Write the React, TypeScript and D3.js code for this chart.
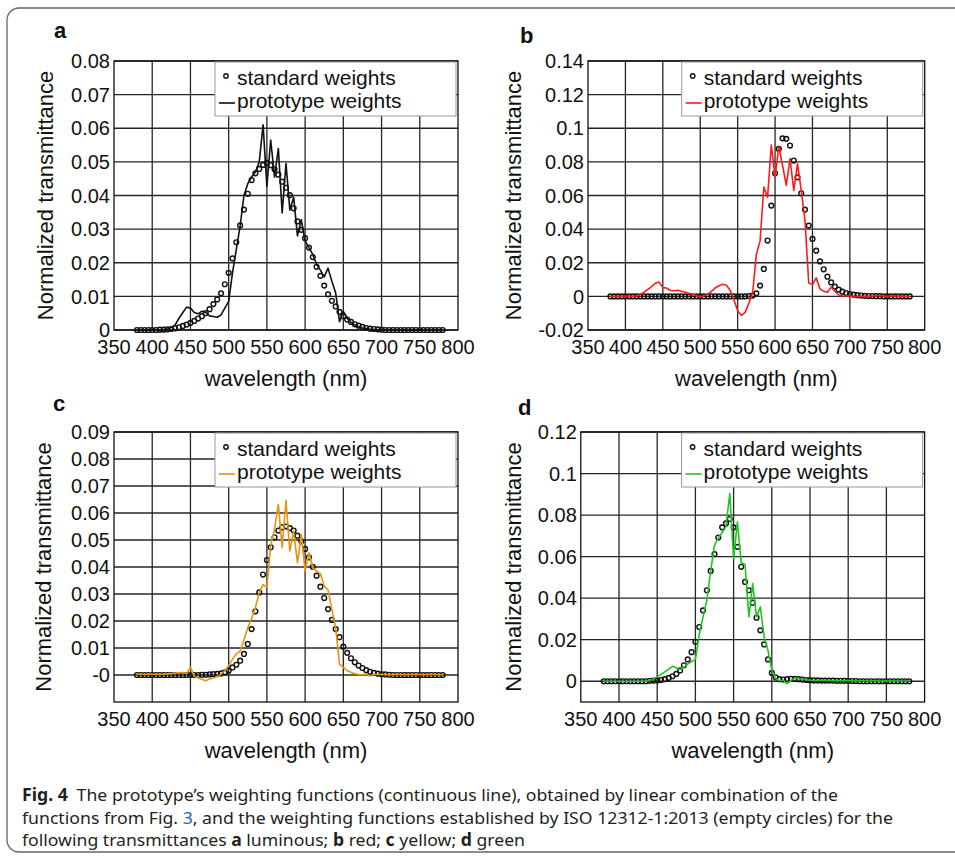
import React from 'react';
import * as d3 from 'd3';

// wavelength grid of the weighting functions (nm)
const wavelengths = d3.range(380, 781, 5);
const xTicks = [350, 400, 450, 500, 550, 600, 650, 700, 750, 800];

// a: luminous
const lumStd = [0, 0, 0, 0, 0, 0, 0.0001, 0.0001, 0.0002, 0.0003, 0.0005, 0.0008, 0.0012, 0.0016, 0.0021, 0.0027, 0.0034,
  0.0041, 0.005, 0.0062, 0.0077, 0.0091, 0.0109, 0.0136, 0.017, 0.0213, 0.0261, 0.0311, 0.0358, 0.0405, 0.0446, 0.0466,
  0.0479, 0.0491, 0.0497, 0.049, 0.0478, 0.0462, 0.0441, 0.0423, 0.0401, 0.0362, 0.0323, 0.0298, 0.0273, 0.0245, 0.0217,
  0.0188, 0.0161, 0.0132, 0.0106, 0.0087, 0.007, 0.0054, 0.0041, 0.0031, 0.0024, 0.0017, 0.0013, 0.0009, 0.0006, 0.0004,
  0.0003, 0.0002, 0.0001, 0, 0, 0, 0, 0, 0, 0, 0, 0, 0, 0, 0, 0, 0, 0, 0];
const lumProto = [0, 0, 0, 0, 0, 0, 0, 0.0001, 0.0003, 0.0008, 0.0015, 0.0035, 0.0052, 0.0068, 0.0065, 0.0052, 0.0048,
  0.0056, 0.0052, 0.0042, 0.004, 0.0038, 0.0045, 0.0065, 0.0085, 0.017, 0.024, 0.031, 0.04, 0.0435, 0.0455, 0.047, 0.05,
  0.061, 0.0428, 0.0565, 0.0455, 0.054, 0.0348, 0.0495, 0.0357, 0.0395, 0.028, 0.0328, 0.0265, 0.0245, 0.0225, 0.0195,
  0.0178, 0.0158, 0.0184, 0.0145, 0.011, 0.0025, 0.0055, 0.0035, 0.0022, 0.0015, 0.001, 0.0006, 0.0004, 0.0002, 0.0001,
  0, 0, 0, 0, 0, 0, 0, 0, 0, 0, 0, 0, 0, 0, 0, 0, 0, 0];

// b: red
const redStd = [0, 0, 0, 0, 0, 0, 0, 0, 0, 0, 0, 0, 0, 0, 0, 0, 0, 0, 0, 0, 0, 0, 0, 0, 0, 0, 0, 0, 0, 0, 0, 0, 0, 0, 0, 0, 0,
  0.0002, 0.0005, 0.0018, 0.0064, 0.0163, 0.0332, 0.054, 0.0732, 0.0877, 0.094, 0.0937, 0.0897, 0.0808, 0.0708, 0.0613,
  0.0516, 0.0421, 0.0342, 0.0272, 0.0208, 0.0161, 0.0117, 0.0083, 0.0058, 0.004, 0.0028, 0.002, 0.0014, 0.001, 0.0007,
  0.0005, 0.0003, 0.0002, 0.0002, 0.0001, 0.0001, 0, 0, 0, 0, 0, 0, 0, 0];
const redProto = [0, 0, 0, 0, 0, 0, 0, 0.0002, 0.001, 0.0025, 0.0042, 0.0058, 0.0078, 0.0085, 0.0052, 0.005, 0.0035,
  0.0033, 0.0036, 0.003, 0.0025, 0.0018, 0.0012, 0.0004, -0.0003, 0.0003, 0.0012, 0.003, 0.005, 0.0063, 0.0072, 0.0066,
  0.0035, -0.002, -0.0085, -0.0113, -0.0095, -0.004, 0.002, 0.025, 0.033, 0.065, 0.059, 0.09, 0.071, 0.089, 0.078, 0.066,
  0.082, 0.063, 0.079, 0.063, 0.045, 0.008, 0.007, 0.011, 0.0045, 0.003, 0.0025, 0.0055, 0.003, 0.0008, 0.0003, 0.0002,
  0.0002, 0.0001, 0, 0.0001, 0, 0, 0.0002, 0.0004, 0.0005, 0.0002, 0, 0.0002, 0.0003, 0.0001, 0, 0, 0];

// c: yellow
const yelStd = [0, 0, 0, 0, 0, 0, 0, 0, 0, 0, 0, 0, 0, 0, 0, 0, 0, 0.0001, 0.0001, 0.0002, 0.0003, 0.0004, 0.0006, 0.001,
  0.0016, 0.0028, 0.0038, 0.0053, 0.0078, 0.0115, 0.017, 0.0236, 0.0306, 0.0372, 0.0426, 0.0473, 0.051, 0.0535, 0.0547,
  0.055, 0.0544, 0.0535, 0.0516, 0.0495, 0.0467, 0.0436, 0.0401, 0.0368, 0.0327, 0.0285, 0.0244, 0.0204, 0.017, 0.014,
  0.0105, 0.0082, 0.0062, 0.0047, 0.0035, 0.0026, 0.0018, 0.0012, 0.0008, 0.0005, 0.0003, 0.0002, 0.0001, 0, 0, 0, 0, 0,
  0, 0, 0, 0, 0, 0, 0, 0, 0];
const yelProto = [0.0003, 0.0003, 0.0003, 0.0003, 0.0003, 0.0003, 0.0003, 0.0003, 0.0004, 0.0005, 0.0007, 0.0008, 0.0009,
  0.0006, 0.0028, -0.0005, -0.001, -0.0016, -0.0021, -0.0015, -0.0011, -0.0006, 0.0003, 0.0015, 0.0035, 0.0058, 0.0078,
  0.0088, 0.013, 0.0175, 0.021, 0.025, 0.0305, 0.0335, 0.0325, 0.048, 0.054, 0.0632, 0.0472, 0.0647, 0.0459, 0.0533,
  0.0416, 0.052, 0.0385, 0.0453, 0.0397, 0.0385, 0.0375, 0.033, 0.0315, 0.0243, 0.0175, 0.004, 0.0028, 0.0016, 0.001,
  0.0005, 0.0002, 0.0001, 0.0003, -0.0004, 0.0002, 0.0003, 0.0002, 0.0002, 0.0001, 0.0002, 0.0003, 0.0002, 0.0001, 0.0001,
  0.0002, 0.0003, 0.0002, 0.0001, 0.0002, 0.0003, 0.0002, 0.0001, 0.0002];

// d: green
const grnStd = [0, 0, 0, 0, 0, 0, 0, 0, 0, 0, 0, 0, 0.0002, 0.0003, 0.0004, 0.0006, 0.001, 0.0016, 0.0024, 0.0035, 0.0052,
  0.0077, 0.0105, 0.014, 0.019, 0.0261, 0.0341, 0.0438, 0.0531, 0.0612, 0.0692, 0.0741, 0.076, 0.0781, 0.0741, 0.0647,
  0.0551, 0.0478, 0.0438, 0.0378, 0.0306, 0.0245, 0.0177, 0.0105, 0.004, 0.0019, 0.001, 0.0008, 0.001, 0.0012, 0.0012,
  0.001, 0.0008, 0.0006, 0.0005, 0.0004, 0.0004, 0.0003, 0.0003, 0.0003, 0.0003, 0.0002, 0.0002, 0.0002, 0.0002, 0.0001,
  0.0001, 0, 0, 0, 0, 0, 0, 0, 0, 0, 0, 0, 0, 0, 0];
const grnProto = [0, 0, 0, 0, 0, 0, 0, 0, 0, 0, 0, 0, 0.0004, 0.001, 0.0022, 0.0033, 0.0045, 0.0058, 0.0072, 0.0065, 0.0056,
  0.0068, 0.0082, 0.0095, 0.0104, 0.0225, 0.031, 0.039, 0.053, 0.0655, 0.069, 0.0715, 0.0745, 0.0904, 0.059, 0.0767, 0.057,
  0.0562, 0.031, 0.047, 0.031, 0.0358, 0.0213, 0.0149, 0.0053, 0.0013, 0.0002, 0.0005, -0.0012, 0.0003, 0.0015, 0.0012,
  0.001, 0.0007, 0.0005, 0.0003, 0.0004, 0.0006, 0.0005, 0.0004, 0.0003, 0.0003, 0.0002, 0.0002, 0.0002, 0.0002, 0.0001,
  0.0002, 0.0002, 0.0001, 0.0002, 0.0002, 0.0001, 0.0001, 0.0002, 0.0001, 0.0002, 0.0001, 0.0001, 0.0001, 0.0001];

const ticksA = [0, 0.01, 0.02, 0.03, 0.04, 0.05, 0.06, 0.07, 0.08];
const labelsA = ['0', '0.01', '0.02', '0.03', '0.04', '0.05', '0.06', '0.07', '0.08'];
const ticksB = [-0.02, 0, 0.02, 0.04, 0.06, 0.08, 0.1, 0.12, 0.14];
const labelsB = ['-0.02', '0', '0.02', '0.04', '0.06', '0.08', '0.1', '0.12', '0.14'];
const ticksC = [0, 0.01, 0.02, 0.03, 0.04, 0.05, 0.06, 0.07, 0.08, 0.09];
const labelsC = ['-0', '0.01', '0.02', '0.03', '0.04', '0.05', '0.06', '0.07', '0.08', '0.09'];
const ticksD = [0, 0.02, 0.04, 0.06, 0.08, 0.1, 0.12];
const labelsD = ['0', '0.02', '0.04', '0.06', '0.08', '0.1', '0.12'];

const FONT = 'Arial, "Liberation Sans", Helvetica, sans-serif';
const CAP_FONT = '"Noto Sans", "Open Sans", sans-serif';

type PanelProps = {
  letter: string;
  letterX: number;
  letterY: number;
  x0: number;
  x1: number;
  y0: number;
  y1: number;
  yDomain: [number, number];
  yTicks: number[];
  yLabels: string[];
  ylabelX: number;
  std: number[];
  proto: number[];
  color: string;
};

function Panel(p: PanelProps) {
  const x = d3.scaleLinear().domain([350, 800]).range([p.x0, p.x1]);
  const y = d3.scaleLinear().domain(p.yDomain).range([p.y1, p.y0]);
  const line = d3.line<number>().x((_, i) => x(wavelengths[i])).y(d => y(d));
  const lx = p.x1 - 243;
  const ly = p.y0 + 1;
  return (
    <g style={{ fontFamily: FONT }} fill="#111">
      <text x={p.letterX} y={p.letterY} fontSize={22} fontWeight="bold">{p.letter}</text>
      <rect x={p.x0} y={p.y0} width={p.x1 - p.x0} height={p.y1 - p.y0} fill="#fff" />
      {xTicks.slice(1, -1).map(t => (
        <line key={'gx' + t} x1={x(t)} x2={x(t)} y1={p.y0} y2={p.y1} stroke="#262626" strokeWidth={1.3} />
      ))}
      {p.yTicks.map(t => (
        <line key={'gy' + t} x1={p.x0} x2={p.x1} y1={y(t)} y2={y(t)} stroke="#262626" strokeWidth={1.3} />
      ))}
      <rect x={p.x0} y={p.y0} width={p.x1 - p.x0} height={p.y1 - p.y0} fill="none" stroke="#111" strokeWidth={1.3} />
      {xTicks.map(t => (
        <text key={'tx' + t} x={x(t)} y={p.y1 + 24} fontSize={20} textAnchor="middle">{t}</text>
      ))}
      {p.yTicks.map((t, i) => (
        <text key={'ty' + t} x={p.x0 - 4} y={y(t)} dy="0.36em" fontSize={20} textAnchor="end">{p.yLabels[i]}</text>
      ))}
      <text x={(p.x0 + p.x1) / 2} y={p.y1 + 56} fontSize={22} textAnchor="middle">wavelength (nm)</text>
      <text transform={`translate(${p.ylabelX},${(p.y0 + p.y1) / 2}) rotate(-90)`} dy="0.36em" fontSize={22}
        textAnchor="middle">Normalized transmittance</text>
      <g>
        {p.std.map((d, i) => (
          <circle key={'c' + i} cx={x(wavelengths[i])} cy={y(d)} r={2.4} fill="none" stroke="#111" strokeWidth={1.4} />
        ))}
      </g>
      <path d={line(p.proto) || ''} fill="none" stroke={p.color} strokeWidth={1.6} strokeLinejoin="round" />
      <rect x={lx} y={ly} width={241} height={54} fill="#fff" stroke="#999" strokeWidth={1} />
      <circle cx={lx + 11} cy={ly + 14} r={2.2} fill="none" stroke="#111" strokeWidth={1.4} />
      <text x={lx + 22} y={ly + 23} fontSize={21}>standard weights</text>
      <line x1={lx + 4} x2={lx + 20} y1={ly + 41} y2={ly + 41} stroke={p.color} strokeWidth={1.6} />
      <text x={lx + 22} y={ly + 46} fontSize={21}>prototype weights</text>
    </g>
  );
}

export default function App() {
  return (
    <svg width={955} height={856} style={{ position: 'absolute', left: 0, top: 0, background: '#fff' }}>
      <rect x={7} y={8} width={1000} height={844} rx={12} fill="#fff" stroke="#666" strokeWidth={1.3} />
      <Panel letter="a" letterX={54} letterY={38} x0={114} x1={458} y0={61} y1={330} yDomain={[0, 0.08]}
        yTicks={ticksA} yLabels={labelsA} ylabelX={45} std={lumStd} proto={lumProto} color="#111" />
      <Panel letter="b" letterX={520} letterY={43} x0={588} x1={924.7} y0={61} y1={330} yDomain={[-0.02, 0.14]}
        yTicks={ticksB} yLabels={labelsB} ylabelX={513} std={redStd} proto={redProto} color="#ff1a1a" />
      <Panel letter="c" letterX={53} letterY={411} x0={114} x1={458} y0={432} y1={702} yDomain={[-0.01, 0.09]}
        yTicks={ticksC} yLabels={labelsC} ylabelX={43} std={yelStd} proto={yelProto} color="#e6940f" />
      <Panel letter="d" letterX={518} letterY={415} x0={580.8} x1={924.6} y0={432} y1={702} yDomain={[-0.01, 0.12]}
        yTicks={ticksD} yLabels={labelsD} ylabelX={513} std={grnStd} proto={grnProto} color="#22c322" />
      <g style={{ fontFamily: CAP_FONT }} fontSize={17} fill="#231f20">
        <text x={22} y={801} textLength={816} lengthAdjust="spacingAndGlyphs">
          <tspan fontWeight="bold">Fig. 4</tspan>
          <tspan>{'\u2002The prototype\u2019s weighting functions (continuous line), obtained by linear combination of the'}</tspan>
        </text>
        <text x={22} y={824} textLength={871} lengthAdjust="spacingAndGlyphs">
          <tspan>functions from Fig. </tspan>
          <tspan fill="#2a5db0">3</tspan>
          <tspan>, and the weighting functions established by ISO 12312-1:2013 (empty circles) for the</tspan>
        </text>
        <text x={22} y={846} textLength={503} lengthAdjust="spacingAndGlyphs">
          <tspan>following transmittances </tspan>
          <tspan fontWeight="bold">a</tspan>
          <tspan> luminous; </tspan>
          <tspan fontWeight="bold">b</tspan>
          <tspan> red; </tspan>
          <tspan fontWeight="bold">c</tspan>
          <tspan> yellow; </tspan>
          <tspan fontWeight="bold">d</tspan>
          <tspan> green</tspan>
        </text>
      </g>
    </svg>
  );
}
